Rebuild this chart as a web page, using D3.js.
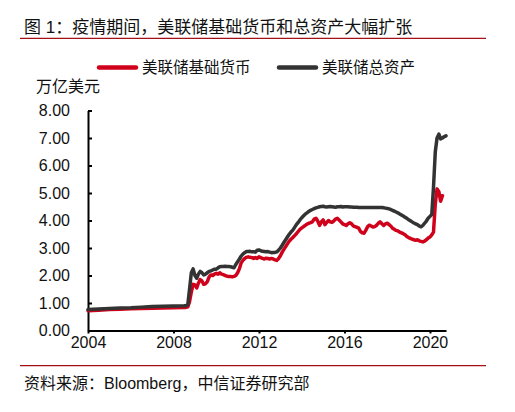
<!DOCTYPE html>
<html>
<head>
<meta charset="utf-8">
<script src="https://cdn.jsdelivr.net/npm/d3@7/dist/d3.min.js"></script>
<style>
  html, body { margin: 0; padding: 0; background: #fff; }
  svg { display: block; }
  text { font-family: "Liberation Sans", "Noto Sans CJK SC", sans-serif; }
</style>
</head>
<body>
<svg id="chart" width="515" height="412"></svg>
<script>
// ---- data (万亿美元) ----
const titleText = "图 1：疫情期间，美联储基础货币和总资产大幅扩张";
const sourceText = "资料来源：Bloomberg，中信证券研究部";
const unitLabel = "万亿美元";
const seriesNames = ["美联储基础货币", "美联储总资产"];
const yTicks = [0, 1, 2, 3, 4, 5, 6, 7, 8];
const xTickYears = [2004, 2008, 2012, 2016, 2020];

const dates = [
  "2004-01","2004-07","2005-01","2005-07","2006-01","2006-07","2007-01","2007-07","2008-01","2008-07",
  "2008-08","2008-09","2008-10","2008-11","2008-12",
  "2009-01","2009-02","2009-03","2009-04","2009-05","2009-06","2009-07","2009-08","2009-09","2009-10","2009-11","2009-12",
  "2010-01","2010-02","2010-03","2010-04","2010-05","2010-06","2010-07","2010-08","2010-09","2010-10","2010-11","2010-12",
  "2011-01","2011-02","2011-03","2011-04","2011-05","2011-06","2011-07","2011-08","2011-09","2011-10","2011-11","2011-12",
  "2012-01","2012-02","2012-03","2012-04","2012-05","2012-06","2012-07","2012-08","2012-09","2012-10","2012-11","2012-12",
  "2013-01","2013-02","2013-03","2013-04","2013-05","2013-06","2013-07","2013-08","2013-09","2013-10","2013-11","2013-12",
  "2014-01","2014-02","2014-03","2014-04","2014-05","2014-06","2014-07","2014-08","2014-09","2014-10","2014-11","2014-12",
  "2015-01","2015-02","2015-03","2015-04","2015-05","2015-06","2015-07","2015-08","2015-09","2015-10","2015-11","2015-12",
  "2016-01","2016-02","2016-03","2016-04","2016-05","2016-06","2016-07","2016-08","2016-09","2016-10","2016-11","2016-12",
  "2017-01","2017-02","2017-03","2017-04","2017-05","2017-06","2017-07","2017-08","2017-09","2017-10","2017-11","2017-12",
  "2018-01","2018-02","2018-03","2018-04","2018-05","2018-06","2018-07","2018-08","2018-09","2018-10","2018-11","2018-12",
  "2019-01","2019-02","2019-03","2019-04","2019-05","2019-06","2019-07","2019-08","2019-09","2019-10","2019-11","2019-12",
  "2020-01","2020-02","2020-03","2020-04","2020-05","2020-06","2020-07","2020-08","2020-09","2020-10"
];

// 美联储基础货币
const baseMoney = [
  0.72,0.74,0.76,0.77,0.79,0.80,0.81,0.82,0.83,0.84,
  0.84,0.86,1.05,1.40,1.68,
  1.66,1.55,1.72,1.85,1.80,1.68,1.70,1.78,1.95,2.02,2.00,2.05,
  2.08,2.05,2.10,2.05,2.03,2.00,1.98,1.96,1.96,1.95,1.97,2.00,
  2.10,2.25,2.45,2.55,2.62,2.66,2.68,2.66,2.65,2.62,2.65,2.62,
  2.68,2.65,2.62,2.60,2.63,2.62,2.60,2.62,2.60,2.57,2.55,2.62,
  2.72,2.85,2.95,3.05,3.15,3.25,3.32,3.38,3.45,3.52,3.60,3.68,
  3.73,3.78,3.82,3.87,3.90,3.92,3.95,4.05,4.08,3.98,3.82,3.95,
  4.02,3.85,3.92,4.00,3.95,3.93,3.98,4.05,4.08,4.02,3.95,3.88,
  3.85,3.82,3.88,3.92,3.88,3.80,3.78,3.75,3.72,3.60,3.55,3.54,
  3.65,3.78,3.83,3.80,3.76,3.78,3.82,3.90,3.95,3.88,3.82,3.88,
  3.90,3.85,3.80,3.72,3.68,3.64,3.62,3.58,3.55,3.52,3.48,3.42,
  3.38,3.35,3.32,3.30,3.28,3.30,3.26,3.24,3.22,3.25,3.30,3.36,
  3.40,3.48,3.58,4.60,5.15,5.05,4.70,4.90,null,null
];

// 美联储总资产
const totalAssets = [
  0.76,0.78,0.80,0.82,0.83,0.85,0.87,0.88,0.89,0.90,
  0.91,0.93,1.50,2.10,2.24,
  2.00,1.90,2.05,2.15,2.10,2.02,2.05,2.10,2.15,2.17,2.20,2.23,
  2.23,2.28,2.32,2.33,2.33,2.34,2.33,2.33,2.32,2.30,2.28,2.40,
  2.50,2.60,2.70,2.78,2.83,2.87,2.87,2.88,2.86,2.86,2.85,2.92,
  2.93,2.90,2.88,2.87,2.86,2.87,2.85,2.83,2.84,2.84,2.86,2.92,
  3.00,3.10,3.20,3.30,3.40,3.50,3.58,3.65,3.75,3.85,3.93,4.02,
  4.10,4.17,4.23,4.28,4.33,4.37,4.40,4.43,4.46,4.48,4.50,4.51,
  4.52,4.50,4.49,4.50,4.51,4.50,4.49,4.48,4.50,4.50,4.51,4.49,
  4.50,4.50,4.50,4.49,4.49,4.48,4.48,4.48,4.47,4.47,4.47,4.47,
  4.47,4.47,4.47,4.47,4.47,4.47,4.47,4.47,4.47,4.47,4.46,4.45,
  4.44,4.42,4.40,4.37,4.34,4.31,4.28,4.24,4.20,4.16,4.12,4.08,
  4.03,3.99,3.95,3.91,3.88,3.85,3.80,3.77,3.82,3.90,3.98,4.08,
  4.15,4.22,5.20,6.50,7.00,7.14,6.97,7.00,7.05,7.08
];

// ---- drawing ----
const svg = d3.select("#chart");
const parse = d3.timeParse("%Y-%m");
const red = "#d0021b", dark = "#333333", rule = "#a50f15";

const x = d3.scaleTime()
  .domain([new Date(2004, 0, 1), new Date(2020, 9, 1)])
  .range([88, 446]);
const y = d3.scaleLinear().domain([0, 8]).range([330.5, 110.5]);

// title + rules
svg.append("text").attr("x", 24).attr("y", 33)
  .attr("font-size", 17).attr("fill", "#111").text(titleText);
svg.append("line").attr("x1", 20).attr("x2", 486).attr("y1", 38.3).attr("y2", 38.3)
  .attr("stroke", rule).attr("stroke-width", 1.2);
svg.append("line").attr("x1", 20).attr("x2", 486).attr("y1", 365.6).attr("y2", 365.6)
  .attr("stroke", rule).attr("stroke-width", 1.2);
svg.append("text").attr("x", 24).attr("y", 389)
  .attr("font-size", 16).attr("fill", "#111").text(sourceText);

// legend
const legend = [
  {name: seriesNames[0], color: red, x: 97},
  {name: seriesNames[1], color: dark, x: 277}
];
legend.forEach(l => {
  svg.append("line").attr("x1", l.x + 2).attr("x2", l.x + 39).attr("y1", 67.5).attr("y2", 67.5)
    .attr("stroke", l.color).attr("stroke-width", 4.5).attr("stroke-linecap", "round");
  svg.append("text").attr("x", l.x + 45).attr("y", 72.5)
    .attr("font-size", 15.5).attr("fill", "#111").text(l.name);
});

// unit label
svg.append("text").attr("x", 36).attr("y", 92)
  .attr("font-size", 16).attr("fill", "#111").text(unitLabel);

// axes
const yAxis = d3.axisLeft(y).tickValues(yTicks)
  .tickFormat(d3.format(".2f")).tickSizeInner(-4).tickSizeOuter(0).tickPadding(18);
const gy = svg.append("g").attr("transform", "translate(88,0)").call(yAxis);
gy.select(".domain").attr("stroke", "#000").attr("stroke-width", 2);
gy.selectAll(".tick line").attr("stroke", "#000").attr("stroke-width", 2);
gy.selectAll("text").attr("font-size", 16).attr("fill", "#111")
  .attr("font-family", "'Liberation Sans', Arial, sans-serif");

const xAxis = d3.axisBottom(x)
  .tickValues(xTickYears.map(yr => new Date(yr, 0, 1)))
  .tickFormat(d3.timeFormat("%Y")).tickSizeInner(3).tickSizeOuter(0).tickPadding(3);
const gx = svg.append("g").attr("transform", "translate(0,330.5)").call(xAxis);
gx.select(".domain").attr("stroke", "#000").attr("stroke-width", 2);
gx.selectAll(".tick line").attr("stroke", "#000").attr("stroke-width", 2);
gx.selectAll("text").attr("font-size", 16).attr("fill", "#111")
  .attr("font-family", "'Liberation Sans', Arial, sans-serif");

// lines
const rows = dates.map((d, i) => ({date: parse(d), base: baseMoney[i], total: totalAssets[i]}));
const lineGen = key => d3.line()
  .defined(d => d[key] != null)
  .x(d => x(d.date)).y(d => y(d[key]));

svg.append("path").datum(rows).attr("d", lineGen("base"))
  .attr("fill", "none").attr("stroke", red).attr("stroke-width", 3.5)
  .attr("stroke-linejoin", "round").attr("stroke-linecap", "round");
svg.append("path").datum(rows).attr("d", lineGen("total"))
  .attr("fill", "none").attr("stroke", dark).attr("stroke-width", 3.5)
  .attr("stroke-linejoin", "round").attr("stroke-linecap", "round");
</script>
</body>
</html>
